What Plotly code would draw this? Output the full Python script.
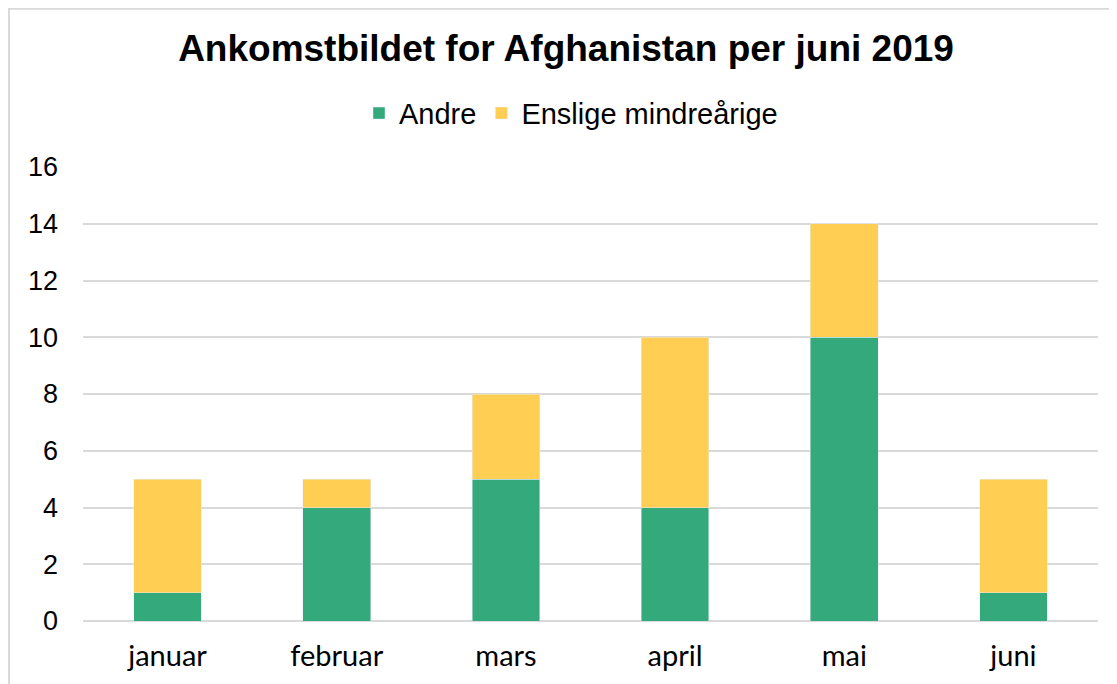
import plotly.graph_objects as go

months = ["januar", "februar", "mars", "april", "mai", "juni"]
andre = [1, 4, 5, 4, 10, 1]
enslige = [4, 1, 3, 6, 4, 4]
y_ticks = [0, 2, 4, 6, 8, 10, 12, 14, 16]

# page body has an 8px margin; figure coordinates = reference coordinates - 8
OFF = 8
W, H = 1117 - OFF, 684 - OFF
L, R, T, B = 83 - OFF, W - (1098 - OFF), 167 - OFF, H - (623 - OFF)
pw, ph = W - L - R, H - T - B

def px(xr):
    return (xr - OFF - L) / pw

def py(yr):
    return (H - B - (yr - OFF)) / ph

fig = go.Figure()
fig.add_trace(go.Bar(x=months, y=andre, name="Andre", marker_color="#34A97B"))
fig.add_trace(go.Bar(x=months, y=enslige, name="Enslige mindreårige", marker_color="#FFCE52"))

fig.update_layout(
    width=W, height=H,
    barmode="stack", bargap=0.6,
    margin=dict(l=L, r=R, t=T, b=B),
    plot_bgcolor="white", paper_bgcolor="white",
    font=dict(family="Liberation Sans, Arial", size=27, color="#000000"),
    title=dict(text="<b>Ankomstbildet for Afghanistan per juni 2019</b>",
               x=px(566), xref="paper", xanchor="center",
               y=1 - (48 - OFF) / H, yanchor="middle",
               font=dict(size=37, color="#000000")),
    legend=dict(orientation="h", x=px(571), xanchor="center", y=py(113), yanchor="middle",
                font=dict(size=29), traceorder="normal", itemwidth=30),
    showlegend=True,
    xaxis=dict(showline=False, ticks="", tickfont=dict(family="Lato, Liberation Sans", size=29),
               ticklabelstandoff=15),
    yaxis=dict(range=[0, 16], tickvals=y_ticks, showgrid=True, gridcolor="#D9D9D9",
               gridwidth=2, zeroline=True, zerolinecolor="#D9D9D9", zerolinewidth=2,
               ticks="", tickfont=dict(size=27), ticklabelstandoff=24),
    shapes=[dict(type="rect", xref="paper", yref="paper",
                 x0=px(OFF + 1), x1=px(1160), y0=py(760), y1=py(OFF),
                 line=dict(color="#D9D9D9", width=2), layer="below")],
)

fig.write_html("out.html")
